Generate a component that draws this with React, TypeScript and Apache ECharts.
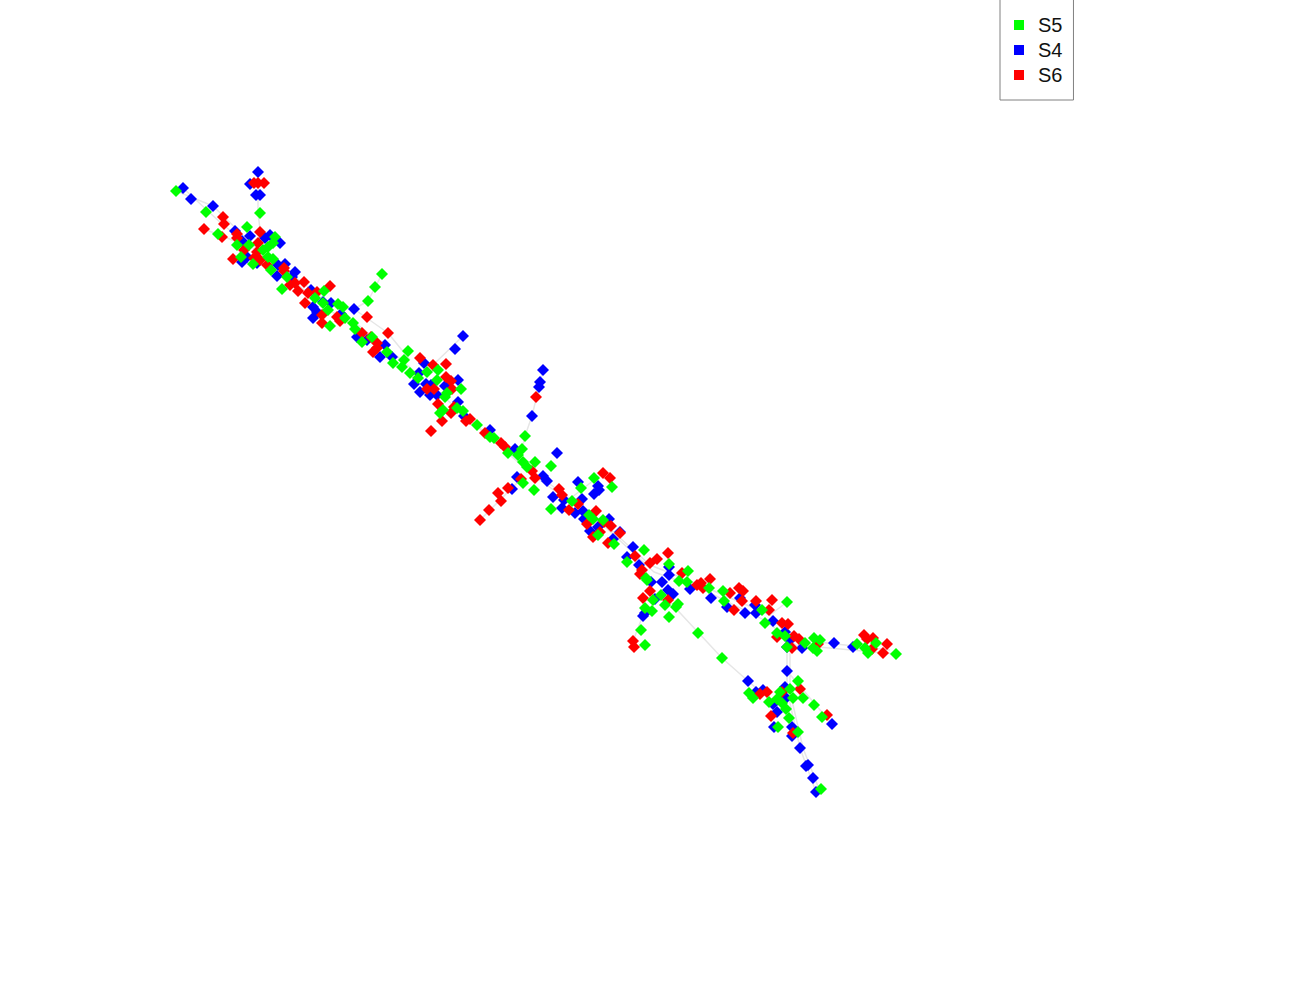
import React, { useEffect, useRef } from "react";
import * as echarts from "echarts";

type P = [number, number];

const seriesNames = ["S5", "S4", "S6"];

const s5: P[] = [
  [176,191],[206,212],[260,213],[247,227],[218,234],[237,245],[249,245],[275,237],[273,243],[268,247],[263,250],[268,257],[273,259],[241,257],[253,264],[271,270],[287,277],[282,289],[324,291],[315,298],[323,303],[330,326],[338,304],[343,307],[345,318],[328,310],[382,274],[375,287],[368,301],[353,323],[355,329],[362,342],[372,337],[387,352],
  [393,363],[408,351],[404,360],[402,367],[410,373],[418,378],[427,372],[438,370],[437,380],[461,389],[445,397],[447,393],[443,410],[440,413],[457,408],[463,411],[477,425],[490,437],[494,438],[525,436],[522,449],
  [508,453],[518,455],[523,462],[535,462],[551,466],[527,467],[523,483],[534,490],[572,501],[594,478],[581,488],[612,487],[551,509],[589,515],[593,519],[598,535],[603,520],[614,544],[627,562],[644,550],[646,578],
  [669,564],[688,571],[679,581],[687,582],[647,580],[653,600],[661,595],[645,608],[652,611],[665,605],[678,604],[676,607],[669,617],[641,630],[645,645],[698,633],[722,658],[709,588],[723,591],[724,601],[762,610],[765,623],[787,602],[777,633],[785,636],[787,647],[805,643],[814,638],[820,640],[813,648],[817,651],[857,644],[865,648],[868,653],[876,643],[896,654],
  [749,693],[753,698],[769,702],[777,699],[780,692],[790,689],[798,681],[793,698],[803,698],[814,705],[782,703],[786,709],[789,718],[778,727],[798,732],[822,717],[821,789],
];

const s4: P[] = [
  [183,188],[191,199],[213,206],[258,172],[250,184],[256,195],[260,195],[235,231],[242,241],[250,236],[265,238],[270,235],[280,243],[242,262],[247,257],[257,263],[278,265],[285,264],[277,276],[295,272],[292,277],[311,290],[313,307],[313,318],[331,303],[354,309],[341,314],[385,345],[357,337],[367,340],[317,312],[323,302],
  [392,357],[380,357],[463,336],[455,349],[424,363],[419,373],[414,384],[420,392],[430,395],[426,384],[431,385],[445,386],[458,380],[437,395],[458,402],[464,416],[490,430],[515,449],[543,370],[540,382],[539,387],[532,416],
  [557,453],[543,476],[547,481],[517,477],[512,489],[578,482],[598,486],[599,490],[594,494],[553,497],[562,508],[582,499],[564,500],[583,511],[575,513],[584,519],[609,519],[590,531],[598,527],[620,532],[613,539],
  [633,547],[627,557],[639,565],[669,567],[669,575],[651,582],[662,582],[668,590],[673,594],[655,599],[690,589],[711,598],[727,607],[745,613],[756,613],[740,598],[755,605],[773,621],[643,616],[645,613],[785,632],[790,640],[802,648],[787,647],[834,643],[853,647],
  [787,671],[748,681],[763,690],[756,692],[785,687],[786,698],[773,704],[777,712],[774,727],[792,727],[792,736],[800,748],[806,766],[808,765],[813,778],[816,792],[832,724],
];

const s6: P[] = [
  [254,183],[258,183],[264,183],[223,217],[224,224],[204,229],[222,237],[237,234],[237,238],[260,232],[258,243],[244,250],[257,252],[233,259],[260,260],[254,258],[267,265],[284,268],[284,271],[290,285],[295,283],[304,282],[298,291],[308,293],[317,292],[330,286],[305,303],[322,315],[322,323],[337,317],[340,321],[367,317],[388,333],[362,333],[371,337],[377,343],[377,348],
  [373,352],[420,358],[433,365],[446,364],[446,377],[451,381],[452,389],[427,389],[434,389],[438,404],[454,407],[451,413],[442,421],[431,431],[466,421],[470,419],[485,433],[501,443],[505,447],[536,397],
  [532,471],[535,478],[521,479],[508,488],[498,493],[501,501],[489,510],[480,520],[559,489],[562,495],[569,510],[578,504],[596,511],[587,524],[604,522],[603,473],[610,478],[600,532],[593,537],[611,526],[620,533],[608,543],
  [635,556],[650,563],[657,559],[668,553],[642,570],[640,574],[643,598],[650,591],[668,600],[682,573],[697,585],[701,583],[710,579],[703,588],[730,593],[739,588],[743,591],[742,601],[734,610],[756,601],[772,600],[769,610],[782,623],[788,624],[794,636],[799,639],[818,644],[792,648],[777,637],[633,641],[634,647],[864,635],[867,639],[873,638],[872,649],[887,644],[883,653],
  [760,694],[767,692],[782,692],[800,689],[771,716],[793,733],[827,715],
];

const linkPaths: P[][] = [
  [[176,191],[213,206],[258,250],[330,303],[390,350],[430,385],[470,420],[530,470],[600,520],[650,565],[700,585],[770,615],[800,640],[890,650]],
  [[183,188],[222,224],[262,255],[326,308],[386,347],[434,388],[474,424],[534,476],[604,526],[654,572],[704,590],[766,621],[796,645],[896,654]],
  [[258,172],[258,213],[262,245]],
  [[382,274],[368,301],[354,309],[388,333],[410,360]],
  [[463,336],[433,365]],
  [[543,370],[532,416],[525,436],[522,450]],
  [[480,520],[520,480]],
  [[603,473],[562,505]],
  [[668,600],[722,658],[748,681],[770,700]],
  [[787,650],[787,690],[800,748],[816,792]],
  [[790,653],[790,692],[803,748],[819,789]],
  [[787,671],[832,724]],
  [[633,641],[645,610]],
  [[204,229],[245,245]],
  [[787,602],[770,615]],
];

const linkData: any[] = [];
linkPaths.forEach((path) => {
  path.forEach((p) => linkData.push(p));
  linkData.push(["-", "-"]);
});

export default function App() {
  const ref = useRef<HTMLDivElement>(null);

  useEffect(() => {
    document.body.style.margin = "0";
    const chart = echarts.init(ref.current!, undefined, { renderer: "svg" });
    const point = (name: string, data: P[], color: string, z: number) => ({
      name,
      type: "scatter",
      data,
      symbol: "diamond",
      symbolSize: 12,
      z,
      itemStyle: { color, opacity: 1 },
      emphasis: { disabled: true },
    });
    chart.setOption({
      animation: false,
      backgroundColor: "#ffffff",
      grid: { left: 0, right: 0, top: 0, bottom: 0 },
      xAxis: { type: "value", min: 0, max: 1300, show: false },
      yAxis: { type: "value", min: 0, max: 1000, inverse: true, show: false },
      legend: {
        data: seriesNames,
        orient: "vertical",
        left: 1000,
        top: -1,
        icon: "rect",
        itemWidth: 10,
        itemHeight: 10,
        itemGap: 3,
        padding: [15, 11, 14, 14],
        borderColor: "#808080",
        borderWidth: 1,
        selectedMode: false,
        textStyle: { fontFamily: "Liberation Sans", fontSize: 20, color: "#111111", lineHeight: 20, padding: [2, 0, 0, 9] },
      },
      series: [
        {
          type: "line",
          data: linkData,
          symbol: "none",
          connectNulls: false,
          z: 1,
          lineStyle: { color: "#e6e6e6", width: 1.5 },
          silent: true,
        },
        point("S4", s4, "#0000ff", 2),
        point("S6", s6, "#ff0000", 3),
        point("S5", s5, "#00ff00", 4),
      ],
    });
    return () => chart.dispose();
  }, []);

  return <div ref={ref} style={{ position: "absolute", left: 0, top: 0, width: 1300, height: 1000 }} />;
}
